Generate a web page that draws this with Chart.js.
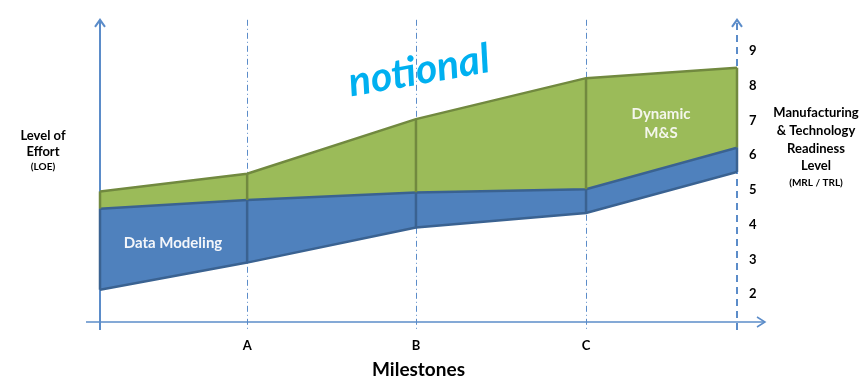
<!DOCTYPE html>
<html>
<head>
<meta charset="utf-8">
<script src="https://cdn.jsdelivr.net/npm/chart.js@4.4.1/dist/chart.umd.min.js"></script>
<style>
body { margin: 0; background: #fff; }
</style>
</head>
<body>
<canvas id="myChart" width="863" height="379"></canvas>
<script>
//data
// milestone positions along x (start, A, B, C, end)
const milestoneX = [0, 23.1, 49.6, 76.3, 100];
const milestoneLabels = ['', 'A', 'B', 'C', ''];
// band edges, read against the MRL / TRL scale on the right
const dataModelingLow = [2.13, 2.91, 3.92, 4.34, 5.52];
const dataModelingHigh = [4.46, 4.71, 4.93, 5.02, 6.22];
const dynamicMSHigh = [4.96, 5.47, 7.04, 8.22, 8.52];
const readinessTicks = [2, 3, 4, 5, 6, 7, 8, 9];

//styles
const FONT = 'Lato, "Open Sans", sans-serif';
const axisColor = '#5b8cc9';
const blueFill = '#4f81bd';
const blueEdge = '#3a6291';
const greenFill = '#9bbb59';
const greenEdge = '#71893f';

const toPoints = (arr) => arr.map((v, i) => ({ x: milestoneX[i], y: v }));

const chevron = (ctx, x, y, dir) => {
    ctx.beginPath();
    if (dir === 'up') { ctx.moveTo(x - 5, y + 7); ctx.lineTo(x, y); ctx.lineTo(x + 5, y + 7); }
    else { ctx.moveTo(x - 8, y - 5); ctx.lineTo(x, y); ctx.lineTo(x - 8, y + 5); }
    ctx.stroke();
}

const text = (ctx, str, x, y, font, color) => {
    ctx.font = font;
    ctx.fillStyle = color || '#000';
    ctx.textAlign = 'center';
    ctx.textBaseline = 'middle';
    ctx.fillText(str, x, y);
}

// axes, milestone lines and the "notional" stamp, behind the bands
const backdrop = {
    id: 'backdrop',
    beforeDatasetsDraw(chart) {
        const { ctx, chartArea: area, scales: { x } } = chart;
        ctx.save();

        ctx.translate(419, 71);
        ctx.rotate(-10 * Math.PI / 180);
        text(ctx, 'notional', 0, 0, 'italic bold 41px ' + FONT, '#00b0f0');
        ctx.setTransform(1, 0, 0, 1, 0, 0);

        ctx.strokeStyle = axisColor;
        ctx.lineWidth = 1;
        ctx.setLineDash([6, 3, 1, 3]);
        for (let i = 1; i < milestoneX.length - 1; i++) {
            const px = Math.round(x.getPixelForValue(milestoneX[i])) + 0.5;
            ctx.beginPath();
            ctx.moveTo(px, area.top);
            ctx.lineTo(px, area.bottom + 8);
            ctx.stroke();
        }

        ctx.lineWidth = 2;
        ctx.setLineDash([]);
        ctx.beginPath();
        ctx.moveTo(area.left, area.top);
        ctx.lineTo(area.left, area.bottom + 8);
        ctx.stroke();
        chevron(ctx, area.left, area.top, 'up');

        ctx.setLineDash([7, 5]);
        ctx.beginPath();
        ctx.moveTo(area.right, area.bottom + 8);
        ctx.lineTo(area.right, area.top);
        ctx.stroke();
        ctx.setLineDash([]);
        chevron(ctx, area.right, area.top, 'up');

        ctx.lineWidth = 1.5;
        ctx.beginPath();
        ctx.moveTo(area.left - 14, area.bottom);
        ctx.lineTo(area.right + 28, area.bottom);
        ctx.stroke();
        chevron(ctx, area.right + 28, area.bottom, 'right');
        ctx.restore();
    }
}

// box edges at each milestone and all the labels
const overlay = {
    id: 'overlay',
    afterDatasetsDraw(chart) {
        const { ctx, scales: { x, y } } = chart;
        ctx.save();
        ctx.lineWidth = 2.5;
        for (let i = 0; i < milestoneX.length; i++) {
            const px = x.getPixelForValue(milestoneX[i]);
            ctx.strokeStyle = greenEdge;
            ctx.beginPath();
            ctx.moveTo(px, y.getPixelForValue(dynamicMSHigh[i]));
            ctx.lineTo(px, y.getPixelForValue(dataModelingHigh[i]));
            ctx.stroke();
            ctx.strokeStyle = blueEdge;
            ctx.beginPath();
            ctx.moveTo(px, y.getPixelForValue(dataModelingHigh[i]));
            ctx.lineTo(px, y.getPixelForValue(dataModelingLow[i]));
            ctx.stroke();
        }

        const band = 'bold 15px ' + FONT;
        text(ctx, 'Data Modeling', 173, 243, band, '#f4f6fa');
        text(ctx, 'Dynamic', 661, 114, band, '#f4f6ec');
        text(ctx, 'M&S', 661, 133, band, '#f4f6ec');

        const side = 'bold 13px ' + FONT;
        const small = 'bold 10px ' + FONT;
        text(ctx, 'Level of', 43, 136, side);
        text(ctx, 'Effort', 43, 152, side);
        text(ctx, '(LOE)', 43, 167, small);

        text(ctx, 'Manufacturing', 816, 113, side);
        text(ctx, '& Technology', 816, 131, side);
        text(ctx, 'Readiness', 816, 149, side);
        text(ctx, 'Level', 816, 166, side);
        text(ctx, '(MRL / TRL)', 816, 183, small);
        ctx.restore();
    }
}

const config = {
    type: 'line',
    data: {
        datasets: [
            { data: toPoints(dataModelingLow), borderColor: blueEdge, borderWidth: 2.5, pointRadius: 0, fill: false },
            { label: 'Data Modeling', data: toPoints(dataModelingHigh), borderColor: blueEdge, borderWidth: 2.5, backgroundColor: blueFill, pointRadius: 0, fill: '-1' },
            { label: 'Dynamic M&S', data: toPoints(dynamicMSHigh), borderColor: greenEdge, borderWidth: 2.5, backgroundColor: greenFill, pointRadius: 0, fill: '-1' }
        ]
    },
    options: {
        responsive: false,
        animation: false,
        devicePixelRatio: 1,
        layout: { padding: { left: 100, top: 12, right: 86, bottom: 0 } },
        plugins: { legend: { display: false }, tooltip: { enabled: false } },
        scales: {
            x: {
                type: 'linear', min: 0, max: 100,
                grid: { display: false, drawTicks: false },
                border: { display: false },
                afterBuildTicks: (s) => { s.ticks = milestoneX.map(v => ({ value: v })) },
                afterFit: (s) => { s.height = 57 },
                ticks: {
                    callback: (v, i) => milestoneLabels[i],
                    font: { family: FONT, size: 13, weight: 'bold' },
                    color: '#000', padding: 16, maxRotation: 0, autoSkip: false
                },
                title: {
                    display: true, text: 'Milestones', color: '#000',
                    font: { family: FONT, size: 19, weight: 'bold', lineHeight: 1 },
                    padding: { top: 0, bottom: 0 }
                }
            },
            y: {
                position: 'right', min: 1.2, max: 9.9,
                grid: { display: false, drawTicks: false },
                border: { display: false },
                afterBuildTicks: (s) => { s.ticks = readinessTicks.map(v => ({ value: v })) },
                afterFit: (s) => { s.width = 40 },
                ticks: { padding: 12, color: '#000', font: { family: FONT, size: 13, weight: 'bold' } }
            }
        }
    },
    plugins: [backdrop, overlay]
};

const myChart = new Chart(document.getElementById('myChart'), config);
</script>
</body>
</html>
